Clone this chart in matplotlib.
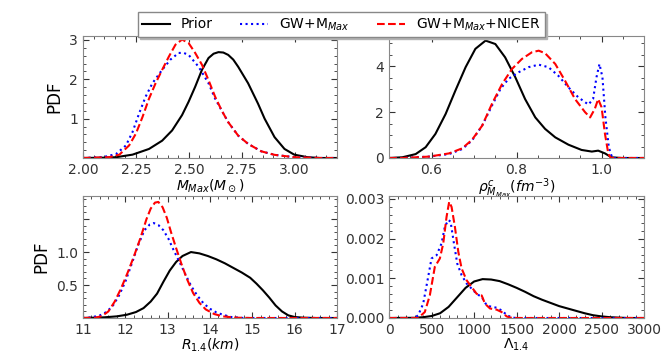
import matplotlib
matplotlib.use("Agg")
import matplotlib.pyplot as plt
from matplotlib.ticker import AutoMinorLocator

# M_max (Msun)
m_prior_x = [2.00, 2.10, 2.156, 2.234, 2.312, 2.374, 2.421, 2.468, 2.499, 2.530, 2.562, 2.593, 2.617, 2.640, 2.663, 2.686, 2.710, 2.733, 2.780, 2.827, 2.858, 2.905, 2.952, 2.998, 3.061, 3.12, 3.20]
m_prior_y = [0.0, 0.008, 0.02, 0.085, 0.23, 0.44, 0.70, 1.09, 1.43, 1.81, 2.24, 2.54, 2.65, 2.69, 2.68, 2.62, 2.50, 2.32, 1.90, 1.38, 1.00, 0.53, 0.23, 0.085, 0.02, 0.0, 0.0]
m_gw_x = [2.00, 2.094, 2.156, 2.203, 2.234, 2.265, 2.296, 2.328, 2.374, 2.413, 2.452, 2.476, 2.499, 2.546, 2.593, 2.624, 2.655, 2.686, 2.733, 2.780, 2.842, 2.905, 2.998, 3.12, 3.20]
m_gw_y = [0.0, 0.02, 0.10, 0.32, 0.66, 1.13, 1.56, 1.90, 2.24, 2.50, 2.67, 2.67, 2.62, 2.32, 1.90, 1.51, 1.21, 0.91, 0.57, 0.36, 0.17, 0.08, 0.02, 0.0, 0.0]
m_nic_x = [2.00, 2.125, 2.172, 2.218, 2.25, 2.281, 2.312, 2.343, 2.374, 2.406, 2.437, 2.468, 2.499, 2.530, 2.562, 2.593, 2.624, 2.655, 2.686, 2.733, 2.780, 2.842, 2.905, 2.998, 3.12, 3.20]
m_nic_y = [0.0, 0.02, 0.085, 0.32, 0.62, 1.04, 1.51, 1.90, 2.24, 2.58, 2.88, 3.01, 2.92, 2.67, 2.37, 1.98, 1.56, 1.21, 0.91, 0.57, 0.36, 0.17, 0.08, 0.02, 0.0, 0.0]

# central density at M_max (fm^-3)
r_prior_x = [0.50, 0.531, 0.5625, 0.586, 0.609, 0.633, 0.656, 0.68, 0.703, 0.727, 0.75, 0.773, 0.797, 0.82, 0.844, 0.867, 0.891, 0.922, 0.953, 0.977, 0.992, 1.008, 1.023, 1.047, 1.10]
r_prior_y = [0.0, 0.03, 0.17, 0.47, 1.05, 1.92, 2.94, 3.96, 4.76, 5.12, 4.97, 4.39, 3.52, 2.57, 1.77, 1.27, 0.90, 0.58, 0.35, 0.28, 0.32, 0.20, 0.03, 0.0, 0.0]
r_gw_x = [0.50, 0.531, 0.594, 0.641, 0.672, 0.695, 0.719, 0.742, 0.762, 0.781, 0.805, 0.828, 0.852, 0.875, 0.898, 0.922, 0.945, 0.969, 0.98, 0.988, 0.995, 1.002, 1.009, 1.017, 1.025, 1.10]
r_gw_y = [0.0, 0.0, 0.06, 0.17, 0.39, 0.76, 1.41, 2.28, 3.01, 3.45, 3.74, 3.96, 4.07, 3.96, 3.59, 3.08, 2.65, 2.33, 2.57, 3.52, 4.10, 3.52, 1.77, 0.47, 0.0, 0.0]
r_nic_x = [0.50, 0.531, 0.594, 0.641, 0.672, 0.695, 0.719, 0.742, 0.766, 0.789, 0.8125, 0.836, 0.852, 0.867, 0.891, 0.914, 0.9375, 0.961, 0.973, 0.984, 0.992, 1.0, 1.008, 1.016, 1.022, 1.10]
r_nic_y = [0.0, 0.0, 0.06, 0.20, 0.42, 0.79, 1.41, 2.36, 3.23, 3.88, 4.32, 4.61, 4.68, 4.57, 4.10, 3.37, 2.57, 2.0, 1.77, 2.14, 2.57, 2.21, 1.05, 0.17, 0.0, 0.0]

# R_1.4 (km)
R_prior_x = [11.0, 11.5, 11.8, 12.04, 12.25, 12.43, 12.6, 12.75, 12.9, 13.05, 13.2, 13.35, 13.55, 13.75, 13.95, 14.15, 14.35, 14.55, 14.75, 14.95, 15.1, 15.25, 15.4, 15.55, 15.7, 15.85, 16.0, 16.2, 16.5, 17.0]
R_prior_y = [0.0, 0.01, 0.025, 0.05, 0.09, 0.15, 0.25, 0.37, 0.55, 0.72, 0.85, 0.94, 1.0, 0.98, 0.94, 0.89, 0.83, 0.76, 0.69, 0.61, 0.52, 0.42, 0.31, 0.19, 0.10, 0.04, 0.015, 0.005, 0.0, 0.0]
R_gw_x = [11.0, 11.2, 11.4, 11.55, 11.7, 11.85, 12.0, 12.15, 12.3, 12.45, 12.58, 12.67, 12.78, 12.9, 13.02, 13.14, 13.28, 13.42, 13.56, 13.7, 13.85, 14.0, 14.15, 14.3, 14.5, 14.8, 17.0]
R_gw_y = [0.0, 0.01, 0.04, 0.09, 0.18, 0.34, 0.55, 0.82, 1.10, 1.33, 1.42, 1.44, 1.41, 1.33, 1.20, 1.03, 0.85, 0.66, 0.48, 0.34, 0.22, 0.14, 0.085, 0.05, 0.015, 0.0, 0.0]
R_nic_x = [11.0, 11.3, 11.45, 11.6, 11.75, 11.9, 12.05, 12.2, 12.35, 12.5, 12.6, 12.7, 12.78, 12.88, 12.98, 13.08, 13.2, 13.32, 13.45, 13.6, 13.75, 13.9, 14.1, 14.3, 14.6, 15.0, 17.0]
R_nic_y = [0.0, 0.005, 0.03, 0.10, 0.25, 0.45, 0.68, 0.93, 1.20, 1.50, 1.66, 1.75, 1.76, 1.68, 1.52, 1.30, 1.06, 0.83, 0.60, 0.38, 0.23, 0.13, 0.06, 0.025, 0.005, 0.0, 0.0]

# tidal deformability Lambda_1.4
L_prior_x = [0, 300, 400, 500, 600, 700, 800, 900, 1000, 1100, 1200, 1300, 1400, 1500, 1600, 1700, 1800, 1900, 2000, 2100, 2200, 2300, 2400, 2500, 2600, 2700, 2800, 3000]
L_prior_y = [0.0, 0.000005, 0.00002, 0.00005, 0.00012, 0.00028, 0.00052, 0.00076, 0.00092, 0.00098, 0.00097, 0.00093, 0.00085, 0.00076, 0.00066, 0.00055, 0.00046, 0.00038, 0.0003, 0.00024, 0.00018, 0.00012, 0.00007, 0.00004, 0.00002, 0.00001, 0.0, 0.0]
L_gw_x = [0, 300, 342, 401, 460, 499, 558, 617, 656, 696, 723, 763, 802, 853, 912, 971, 1030, 1089, 1148, 1206, 1265, 1324, 1383, 1442, 1500, 3000]
L_gw_y = [0.0, 0.0, 0.00007, 0.00036, 0.00104, 0.0015, 0.00158, 0.00188, 0.0023, 0.00247, 0.00243, 0.00188, 0.00137, 0.00108, 0.00087, 0.00074, 0.00061, 0.00053, 0.00032, 0.00028, 0.00026, 0.00019, 0.00008, 0.00001, 0.0, 0.0]
L_nic_x = [0, 342, 420, 479, 538, 597, 637, 676, 707, 735, 774, 814, 853, 912, 971, 1030, 1089, 1128, 1187, 1265, 1324, 1383, 1423, 1500, 3000]
L_nic_y = [0.0, 0.0, 0.00015, 0.00057, 0.00129, 0.0015, 0.00188, 0.00255, 0.00293, 0.0028, 0.0023, 0.00167, 0.00125, 0.00095, 0.00078, 0.00061, 0.00057, 0.00036, 0.00024, 0.00021, 0.00015, 0.00004, 0.00001, 0.0, 0.0]

labels = ['Prior', r'GW+M$_{Max}$', r'GW+M$_{Max}$+NICER']

plt.rcParams['font.family'] = 'DejaVu Sans'
plt.rcParams['font.size'] = 10

fig = plt.figure(figsize=(6.64, 3.54), dpi=100)
pos = [[0.125, 0.5537, 0.3825, 0.3446], [0.586, 0.5537, 0.384, 0.3446],
       [0.125, 0.1017, 0.3825, 0.3446], [0.586, 0.1017, 0.384, 0.3446]]
axs = [fig.add_axes(p) for p in pos]

data = [(m_prior_x, m_prior_y, m_gw_x, m_gw_y, m_nic_x, m_nic_y),
        (r_prior_x, r_prior_y, r_gw_x, r_gw_y, r_nic_x, r_nic_y),
        (R_prior_x, R_prior_y, R_gw_x, R_gw_y, R_nic_x, R_nic_y),
        (L_prior_x, L_prior_y, L_gw_x, L_gw_y, L_nic_x, L_nic_y)]

for ax, d in zip(axs, data):
    ax.plot(d[0], d[1], 'k-', lw=1.5, label=labels[0])
    ax.plot(d[2], d[3], color='blue', ls=':', lw=1.5, label=labels[1])
    ax.plot(d[4], d[5], color='red', ls='--', lw=1.5, label=labels[2])
    ax.tick_params(which='both', direction='in', top=True, right=True, colors='#333333', labelsize=10)
    ax.tick_params(which='major', length=4)
    ax.tick_params(which='minor', length=2)
    ax.xaxis.set_minor_locator(AutoMinorLocator())
    ax.yaxis.set_minor_locator(AutoMinorLocator())
    for s in ax.spines.values():
        s.set_color('#888888')

ax = axs[0]
ax.set_xlim(2.0, 3.2)
ax.set_ylim(0, 3.1)
ax.set_xticks([2.0, 2.25, 2.5, 2.75, 3.0])
ax.set_yticks([1, 2, 3])
ax.set_xlabel(r'$M_{Max}(M_\odot)$', labelpad=0)
ax.set_ylabel('PDF', fontsize=12)

ax = axs[1]
ax.set_xlim(0.5, 1.1)
ax.set_ylim(0, 5.32)
ax.set_xticks([0.6, 0.8, 1.0])
ax.set_yticks([0, 2, 4])
ax.set_xlabel(r'$\rho^c_{M_{Max}}(fm^{-3})$', labelpad=0)

ax = axs[2]
ax.set_xlim(11, 17)
ax.set_ylim(0, 1.85)
ax.set_xticks(range(11, 18))
ax.set_yticks([0.5, 1.0, 1.5])
ax.set_yticklabels(['0.5', '1.0', ''])
ax.set_xlabel(r'$R_{1.4}(km)$', labelpad=0)
ax.set_ylabel('PDF', fontsize=12)

ax = axs[3]
ax.set_xlim(0, 3000)
ax.set_ylim(0, 0.003075)
ax.set_yticks([0, 0.001, 0.002, 0.003])
ax.set_yticklabels(['0.000', '0.001', '0.002', '0.003'])
ax.set_xlabel(r'$\Lambda_{1.4}$', labelpad=0)

h, l = axs[0].get_legend_handles_labels()
fig.legend(h, l, loc='upper center', bbox_to_anchor=(0.514, 0.985), ncol=3, fontsize=10,
           frameon=True, fancybox=False, borderpad=0.3, edgecolor='#888888',
           shadow={'ox': 1.5, 'oy': -1.5, 'color': '0.7', 'alpha': 1})

fig.savefig('out.png', dpi=100)
